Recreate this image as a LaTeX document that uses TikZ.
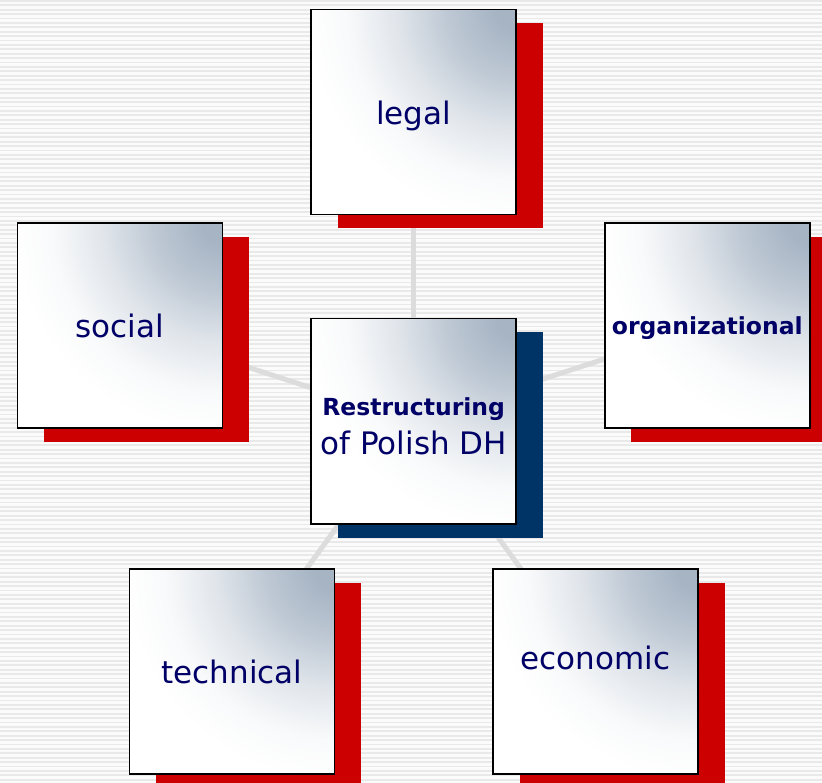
\documentclass[tikz,border=0pt]{standalone}
\usepackage{fontspec}
\setmainfont{DejaVu Sans}
\usetikzlibrary{shadows, positioning}
\definecolor{linegray}{RGB}{220, 220, 220}
\definecolor{stripe}{RGB}{233, 233, 233}
\definecolor{paper}{RGB}{251, 251, 251}
\definecolor{shadowred}{RGB}{204, 0, 0}
\definecolor{shadownavy}{RGB}{0, 51, 102}
\definecolor{boxblue}{RGB}{166, 180, 196}
\definecolor{txt}{RGB}{0, 0, 102}
% glow that sits on the top right corner of every box
\pgfdeclareradialshading{cornerglow}{\pgfpointorigin}{color(0bp)=(boxblue); color(20bp)=(boxblue);
  color(70bp)=(white!28!boxblue); color(120bp)=(white!66!boxblue); color(170bp)=(white!93!boxblue);
  color(210bp)=(white); color(240bp)=(white)}
\pgfdeclarelayer{stripes}
\pgfdeclarelayer{links}
\pgfsetlayers{stripes,links,main}
\tikzset{
    facebox/.style = {draw=black, line width=1.6pt, rectangle, fill=white,
      path picture={\pgftext[at=\pgfpointanchor{path picture bounding box}{north east}]{\pgfuseshading{cornerglow}}},
      minimum width=205pt, minimum height=205pt, inner sep=0pt, align=center, text=txt,
      font=\fontsize{31}{39}\selectfont,
      drop shadow={shadow xshift=26.5pt, shadow yshift=-13.8pt, fill=#1, opacity=1}},
    facebox/.default = shadowred,
    oneword/.style = {text height=31pt, text depth=7pt},
    boldword/.style = {font=\fontsize{23.5}{28}\selectfont\bfseries, text height=24pt, text depth=5.5pt},
    link/.style = {linegray, line width=5pt}
}
\newcommand{\headword}[1]{{\fontsize{23.5}{28}\selectfont\bfseries\rule{0pt}{28pt}#1}}

\begin{document}
\begin{tikzpicture}[x=1pt, y=1pt]
    \clip (0,0) rectangle (822,-783);
    % striped backdrop
    \begin{pgfonlayer}{stripes}
      \fill [paper] (0,0) rectangle (822,-783);
      \foreach \k in {0,...,178}
        \fill [stripe] (0,-\k*4.4) rectangle (822,-\k*4.4-1.8);
    \end{pgfonlayer}

    \node [facebox=shadownavy, name=hub] at (413.7,-421.2) {\headword{Restructuring}\\of Polish DH};

    \node [facebox, oneword, name=legal] at (413.7,-112.2) {legal};
    \node [facebox, oneword, name=social] at (120,-325.5) {social};
    \node [facebox, boldword, name=organizational] at (707.3,-325.5) {organizational};
    \node [facebox, oneword, name=technical] at (232,-671.5) {technical};
    \node [facebox, oneword, name=economic, text depth=35pt] at (595.5,-671.5) {economic};

    \begin{pgfonlayer}{links}
      \foreach \n in {legal, social, organizational, technical, economic}
        \draw [link] (hub.center) -- (\n.center);
    \end{pgfonlayer}
\end{tikzpicture}
\end{document}
